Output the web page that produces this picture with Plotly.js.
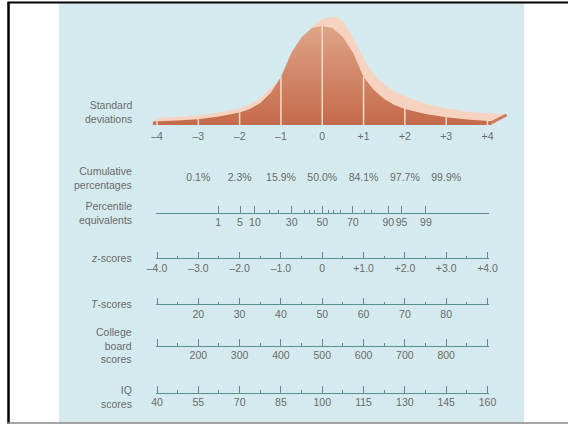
<!DOCTYPE html>
<html>
<head>
<meta charset="utf-8">
<script src="https://cdn.plot.ly/plotly-3.0.1.min.js"></script>
<style>html,body{margin:0;padding:0;background:#fff;}#chart{width:568px;height:424px;}</style>
</head>
<body>
<div id="chart"></div>
<script>
// ---------- data ----------
// front (dark) face of the curve: standard-deviation position and height
const darkZ = [-4.1, -4, -3.5, -3, -2.5, -2, -1.75, -1.5, -1.25, -1, -0.75, -0.5, -0.25, 0, 0.25, 0.5, 0.75, 1, 1.25, 1.5, 1.75, 2, 2.5, 3, 3.5, 4, 4.1];
const darkH = [3.5, 3.8, 4.5, 5.8, 8.5, 12.5, 16, 22, 32, 48, 72, 88, 97, 99, 97, 88, 72, 48, 35, 26, 20, 16, 11, 7.7, 5.5, 4, 3.8];
// back (light) face of the curve
const lightZ = [-4.1, -3.93, -3.5, -3, -2.5, -2, -1.75, -1.5, -1.25, -1.1, -1, -0.75, -0.5, -0.25, 0, 0.15, 0.35, 0.5, 0.67, 0.85, 1, 1.15, 1.32, 1.64, 2.04, 2.5, 3, 3.5, 4, 4.46, 4.1];
const lightH = [3.5, 7.3, 8, 9.5, 12.5, 16.7, 20.5, 26.7, 37, 42, 45, 65, 86, 98, 106, 107.5, 108, 104, 93, 79, 67, 56, 47, 36, 28, 21, 16.7, 13.3, 11.7, 11, 0];

const sdTicks = [-4, -3, -2, -1, 0, 1, 2, 3, 4];
const sdLabels = ['\u20134', '\u20133', '\u20132', '\u20131', '0', '+1', '+2', '+3', '+4'];

const cumZ = [-3, -2, -1, 0, 1, 2, 3];
const cumLabels = ['0.1%', '2.3%', '15.9%', '50.0%', '84.1%', '97.7%', '99.9%'];

const pctZ = [-2.52, -1.99, -1.63, -0.74, 0, 0.74, 1.60, 1.92, 2.51];
const pctLabels = ['1', '5', '10', '30', '50', '70', '90', '95', '99'];
const pctMinorZ = [-1.27, -1.06, -0.42, -0.30, -0.18, 0.15, 0.27, 0.43, 1.03, 1.20];

const zTicks = [-4, -3, -2, -1, 0, 1, 2, 3, 4];
const zLabels = ['\u20134.0', '\u20133.0', '\u20132.0', '\u20131.0', '0', '+1.0', '+2.0', '+3.0', '+4.0'];

const tTicks = [10, 20, 30, 40, 50, 60, 70, 80, 90];
const tLabels = ['', '20', '30', '40', '50', '60', '70', '80', ''];

const cbTicks = [100, 200, 300, 400, 500, 600, 700, 800, 900];
const cbLabels = ['', '200', '300', '400', '500', '600', '700', '800', ''];

const iqTicks = [40, 55, 70, 85, 100, 115, 130, 145, 160];
const iqLabels = ['40', '55', '70', '85', '100', '115', '130', '145', '160'];

const rowLabels = ['Standard<br>deviations', 'Cumulative<br>percentages', 'Percentile<br>equivalents',
  '<i>z</i>-scores', '<i>T</i>-scores', 'College<br>board<br>scores', 'IQ<br>scores'];

// ---------- styling ----------
const FONT = 'Liberation Sans, Arial, sans-serif';
const TXT = '#6a6a6a';
const AX = '#5b8e8f';
const BG = '#d5eaee';
const W = 568, H = 424, ML = 59, MR = 44, MT = 3, MB = 2;
const PW = W - ML - MR, PH = H - MT - MB;
const fy = px => (H - MB - px) / PH;     // pixel row -> paper fraction
const fx = px => (px - ML) / PW;
const PXU = 41.31, Z0 = 322.25;           // pixels per SD, centre pixel
const zAt = px => (px - Z0) / PXU;
const BASE = 125;                          // baseline pixel row of the curve

const traces = [];
// back face
traces.push({x: lightZ, y: lightH, xaxis: 'x', yaxis: 'y', mode: 'lines', fill: 'toself',
  fillcolor: '#f6d3c1', line: {width: 0, color: '#f6d3c1'}, hoverinfo: 'skip'});
// front face
const dx = darkZ.concat([darkZ[darkZ.length - 1], darkZ[0]]);
const dy = darkH.concat([0, 0]);
traces.push({x: dx, y: dy, xaxis: 'x', yaxis: 'y', mode: 'lines', fill: 'toself',
  fillcolor: '#d08463', line: {width: 0, color: '#d08463'},
  fillgradient: {type: 'vertical', start: 0, stop: 99, colorscale: [[0, '#c46a4a'], [1, '#dfa487']]},
  hoverinfo: 'skip'});
// end face (right slant)
const nL = lightZ.length;
traces.push({x: [darkZ[darkZ.length - 1], lightZ[nL - 2]], y: [darkH[darkH.length - 1] - 1.5, lightH[nL - 2] - 1],
  xaxis: 'x', yaxis: 'y', mode: 'lines', line: {width: 3, color: '#cf7a5a'}, hoverinfo: 'skip'});
// drop lines at each standard deviation
const lx = [], ly = [];
sdTicks.forEach(t => {
  const i = darkZ.indexOf(t);
  lx.push(t, t, null); ly.push(0, darkH[i], null);
});
traces.push({x: lx, y: ly, xaxis: 'x', yaxis: 'y', mode: 'lines', line: {width: 1.5, color: '#f7dccd'}, hoverinfo: 'skip'});
// cumulative percentages
traces.push({x: cumZ, y: cumZ.map(() => BASE - 178.5), xaxis: 'x', yaxis: 'y', mode: 'text', text: cumLabels,
  textfont: {family: FONT, size: 10.5, color: TXT}, textposition: 'middle center', hoverinfo: 'skip', cliponaxis: false});
// invisible anchors for the score scales
['x2', 'x3', 'x4', 'x5', 'x6'].forEach(a => traces.push({x: [0], y: [-1000], xaxis: a, yaxis: 'y', mode: 'none', hoverinfo: 'skip', showlegend: false}));

const P0 = 157, P1 = 487.5, EXT = 1.5;     // scale ends (px) and small extension so end ticks are kept
const dom = [fx(P0 - EXT), fx(P1 + EXT)];
function scale(lo, hi, tickvals, ticktext, posPx, minor) {
  const upp = (hi - lo) / (P1 - P0);
  const ax = {domain: dom, range: [lo - EXT * upp, hi + EXT * upp], anchor: 'free', position: fy(posPx), side: 'bottom',
    showline: true, linecolor: AX, linewidth: 1, showgrid: false, zeroline: false,
    tickmode: 'array', tickvals: tickvals, ticktext: ticktext, tickangle: 0,
    ticks: 'inside', ticklen: 6.5, tickwidth: 1, tickcolor: AX,
    tickfont: {family: FONT, size: 10.5, color: TXT}, fixedrange: true};
  if (minor) ax.minor = Object.assign({ticks: 'inside', ticklen: 2.5, tickwidth: 1, tickcolor: AX, showgrid: false}, minor);
  return ax;
}

const layout = {
  width: W, height: H, margin: {l: ML, r: MR, t: MT, b: MB, pad: 0},
  paper_bgcolor: '#ffffff', plot_bgcolor: 'rgba(0,0,0,0)', showlegend: false,
  font: {family: FONT, size: 10.5, color: TXT},
  xaxis: {domain: [0, 1], range: [zAt(ML), zAt(ML + PW)], anchor: 'free', position: fy(BASE),
    showline: false, showgrid: false, zeroline: false, ticks: '', tickangle: 0, ticklabelstandoff: 3,
    tickmode: 'array', tickvals: sdTicks, ticktext: sdLabels,
    tickfont: {family: FONT, size: 10.5, color: TXT}, fixedrange: true},
  yaxis: {domain: [0, 1], range: [BASE - (H - MB), BASE - MT], visible: false, fixedrange: true},
  xaxis2: scale(-4, 4, zTicks, zLabels, 258.3, {dtick: 0.5, tick0: 0}),
  xaxis3: Object.assign(scale(-4, 4, pctZ, pctLabels, 212.7, {tickmode: 'array', tickvals: pctMinorZ, ticklen: 3}), {ticklen: 7}),
  xaxis4: scale(10, 90, tTicks, tLabels, 304, {dtick: 5, tick0: 0}),
  xaxis5: scale(100, 900, cbTicks, cbLabels, 345.7, {dtick: 50, tick0: 0}),
  xaxis6: scale(40, 160, iqTicks, iqLabels, 392.7, {dtick: 7.5, tick0: 40}),
  shapes: [
    {type: 'rect', layer: 'below', xref: 'paper', yref: 'paper', x0: 0, x1: 1, y0: fy(423), y1: fy(2.5), fillcolor: BG, line: {width: 0}},
    {type: 'line', xref: 'paper', yref: 'paper', x0: fx(8.5), x1: fx(8.5), y0: fy(2), y1: fy(423.5), line: {color: '#000', width: 2.5}},
    {type: 'line', xref: 'paper', yref: 'paper', x0: fx(7.5), x1: fx(568), y0: fy(2.5), y1: fy(2.5), line: {color: '#000', width: 2}},
    {type: 'line', xref: 'paper', yref: 'paper', x0: fx(7.5), x1: fx(568), y0: fy(423), y1: fy(423), line: {color: '#888', width: 1.5}}
  ],
  annotations: []
};

const rowY = [112, 177.7, 213.3, 258.3, 304, 345.3, 396.8];
rowLabels.forEach((t, i) => layout.annotations.push({text: t, xref: 'paper', yref: 'paper', x: fx(134), y: fy(rowY[i]),
  xanchor: 'right', yanchor: 'middle', align: 'right', showarrow: false,
  font: {family: FONT, size: 10.5, color: TXT}}));

Plotly.newPlot('chart', traces, layout, {displayModeBar: false, staticPlot: true});
</script>
</body>
</html>
